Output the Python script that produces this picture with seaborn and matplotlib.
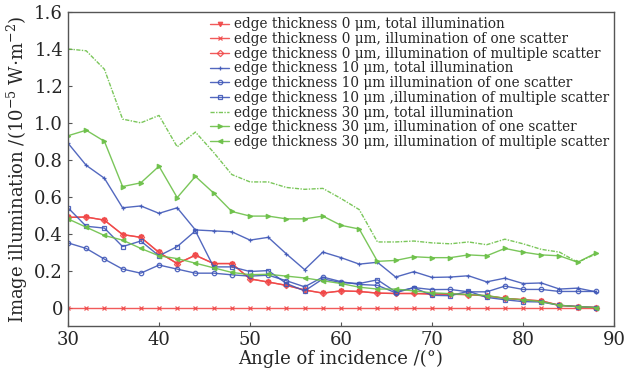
import matplotlib
matplotlib.use("Agg")
import matplotlib.pyplot as plt
import seaborn as sns
import pandas as pd

# angle of incidence (degrees)
angles = list(range(30, 90, 2))

# edge thickness 0 um
red_total = [0.488, 0.49, 0.473, 0.395, 0.38, 0.298, 0.238, 0.283, 0.238, 0.238,
             0.155, 0.138, 0.12, 0.095, 0.078, 0.09, 0.087, 0.078, 0.076, 0.076,
             0.073, 0.072, 0.07, 0.063, 0.05, 0.042, 0.036, 0.012, 0.005, 0.0]
red_one = [0.0] * 30
red_multi = [0.488, 0.49, 0.473, 0.395, 0.38, 0.298, 0.238, 0.283, 0.238, 0.238,
             0.155, 0.138, 0.12, 0.095, 0.078, 0.09, 0.087, 0.078, 0.076, 0.076,
             0.073, 0.072, 0.07, 0.063, 0.05, 0.042, 0.036, 0.012, 0.005, 0.0]

# edge thickness 10 um
blue_total = [0.89, 0.77, 0.70, 0.54, 0.55, 0.51, 0.54, 0.42, 0.415, 0.41,
              0.365, 0.38, 0.29, 0.205, 0.30, 0.27, 0.235, 0.245, 0.165, 0.194,
              0.163, 0.165, 0.172, 0.139, 0.159, 0.13, 0.133, 0.10, 0.105, 0.085]
blue_one = [0.35, 0.32, 0.262, 0.208, 0.186, 0.23, 0.208, 0.186, 0.186, 0.177,
            0.17, 0.175, 0.145, 0.112, 0.165, 0.14, 0.125, 0.12, 0.08, 0.108,
            0.097, 0.098, 0.085, 0.085, 0.116, 0.098, 0.098, 0.087, 0.087, 0.087]
blue_multi = [0.54, 0.44, 0.43, 0.33, 0.36, 0.28, 0.33, 0.415, 0.22, 0.22,
              0.195, 0.20, 0.13, 0.09, 0.155, 0.135, 0.13, 0.15, 0.085, 0.107,
              0.066, 0.064, 0.088, 0.055, 0.042, 0.032, 0.03, 0.012, 0.005, 0.0]

# edge thickness 30 um
green_total = [1.40, 1.39, 1.29, 1.02, 1.00, 1.04, 0.87, 0.95, 0.84, 0.72,
               0.68, 0.68, 0.65, 0.64, 0.645, 0.59, 0.53, 0.355, 0.355, 0.36,
               0.35, 0.345, 0.355, 0.34, 0.37, 0.345, 0.315, 0.30, 0.245, 0.29]
green_one = [0.93, 0.96, 0.90, 0.655, 0.675, 0.765, 0.595, 0.71, 0.62, 0.52,
             0.495, 0.495, 0.48, 0.48, 0.495, 0.445, 0.425, 0.25, 0.255, 0.275,
             0.27, 0.27, 0.285, 0.28, 0.32, 0.30, 0.285, 0.28, 0.245, 0.295]
green_multi = [0.48, 0.435, 0.39, 0.365, 0.32, 0.28, 0.265, 0.24, 0.215, 0.19,
               0.178, 0.18, 0.17, 0.16, 0.145, 0.13, 0.11, 0.10, 0.10, 0.09,
               0.08, 0.075, 0.07, 0.065, 0.05, 0.042, 0.032, 0.012, 0.005, 0.0]

labels = [
    "edge thickness 0 \u03bcm, total illumination",
    "edge thickness 0 \u03bcm, illumination of one scatter",
    "edge thickness 0 \u03bcm, illumination of multiple scatter",
    "edge thickness 10 \u03bcm, total illumination",
    "edge thickness 10 \u03bcm illumination of one scatter",
    "edge thickness 10 \u03bcm ,illumination of multiple scatter",
    "edge thickness 30 \u03bcm, total illumination",
    "edge thickness 30 \u03bcm, illumination of one scatter",
    "edge thickness 30 \u03bcm, illumination of multiple scatter",
]
series = [red_total, red_one, red_multi, blue_total, blue_one, blue_multi,
          green_total, green_one, green_multi]

red, blue, green = "#f04848", "#4058b8", "#6cc048"
styles = [
    dict(color=red, marker="v", ls="-"),
    dict(color=red, marker="x", ls="-"),
    dict(color=red, marker="D", ls="-", mfc="none"),
    dict(color=blue, marker="+", ls="-"),
    dict(color=blue, marker="o", ls="-", mfc="none"),
    dict(color=blue, marker="s", ls="-", mfc="none"),
    dict(color=green, marker=None, ls=(0, (3, 1, 1, 1))),
    dict(color=green, marker=">", ls="-"),
    dict(color=green, marker="<", ls="-"),
]

sns.set_style("ticks")
plt.rcParams["font.family"] = ["DejaVu Serif"]
plt.rcParams["mathtext.fontset"] = "dejavuserif"

fig = plt.figure(figsize=(6.26, 3.82), dpi=100)
ax = fig.add_axes([0.1086, 0.1466, 0.8724, 0.822])

for vals, lab, st in zip(series, labels, styles):
    df = pd.DataFrame({"angle": angles, "value": vals})
    sns.lineplot(data=df, x="angle", y="value", ax=ax, color=st["color"],
                 marker=st["marker"], linestyle=st["ls"], linewidth=1.0,
                 markersize=3.2, markeredgewidth=0.9,
                 markerfacecolor=st.get("mfc", st["color"]),
                 markeredgecolor=st["color"], label=lab, alpha=0.9)

ax.set_xlim(30, 90)
ax.set_ylim(-0.1, 1.6)
ax.set_xticks([30, 40, 50, 60, 70, 80, 90])
ax.set_yticks([0, 0.2, 0.4, 0.6, 0.8, 1.0, 1.2, 1.4, 1.6])
ax.set_yticklabels(["0", "0.2", "0.4", "0.6", "0.8", "1.0", "1.2", "1.4", "1.6"])
ax.tick_params(direction="in", length=3, labelsize=13, color="#555555")
for s in ax.spines.values():
    s.set_color("#555555")
    s.set_linewidth(1.0)

ax.set_xlabel("Angle of incidence /(\u00b0)", fontsize=13, labelpad=1)
ax.set_ylabel("Image illumination /(10$^{-5}$ W$\\cdot$m$^{-2}$)", fontsize=13,
              labelpad=3)

ax.legend(loc="upper right", frameon=False, fontsize=9.8, handlelength=1.4,
          handletextpad=0.3, labelspacing=0.05, borderaxespad=0.2,
          borderpad=0.2)

fig.savefig("out.png", dpi=100)
